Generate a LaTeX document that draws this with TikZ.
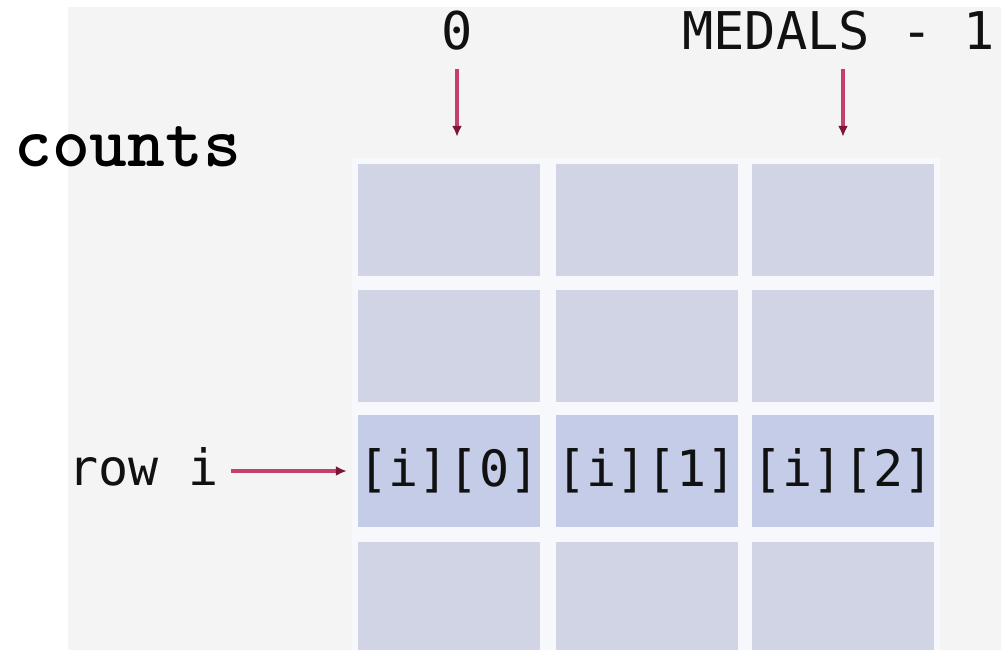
\documentclass[tikz,border=0pt]{standalone}
\usepackage{fontspec}
\newfontfamily\monofont{DejaVu Sans Mono}
\usetikzlibrary{arrows.meta}
\definecolor{bg}{HTML}{F4F4F4}
\definecolor{gridbg}{HTML}{F7F8FB}
\definecolor{cellc}{HTML}{D1D4E5}
\definecolor{cellhi}{HTML}{C5CCE7}
\definecolor{arrowc}{HTML}{C4406A}
\definecolor{tipc}{HTML}{7E1535}
\definecolor{txt}{HTML}{111111}
\tikzset{
  cell/.style={fill=cellc, draw=none, minimum width=182pt, minimum height=112pt,
    inner sep=0pt, text=txt, font=\monofont\fontsize{50}{50}\selectfont},
  hicell/.style={cell, fill=cellhi},
  ptr/.style={draw=arrowc, line width=4pt, -{Latex[length=11pt,width=10pt,color=tipc]}},
  lbl/.style={inner sep=0pt, text=txt, font=\monofont\fontsize{52}{52}\selectfont},
  rowlbl/.style={inner sep=0pt, text=txt, font=\monofont\fontsize{50}{50}\selectfont},
  namelbl/.style={inner sep=0pt, text=black, font=\ttfamily\bfseries\fontsize{72}{72}\selectfont},
}
\begin{document}
\begin{tikzpicture}[x=1pt,y=-1pt]
\useasboundingbox (0,0) rectangle (1001,650);
\clip (0,0) rectangle (1001,650);
\fill[bg] (68,7) rectangle (1001,650);
\fill[gridbg] (352,158) rectangle (940,650);
% cells
\node[cell] (c11) at (449,220) {};
\node[cell] (c12) at (646.5,220) {};
\node[cell] (c13) at (843,220) {};
\node[cell] (c21) at (449,346) {};
\node[cell] (c22) at (646.5,346) {};
\node[cell] (c23) at (843,346) {};
\node[hicell] (c31) at (449,471) {\makebox[0pt]{[i][0]}};
\node[hicell] (c32) at (646.5,471) {\makebox[0pt]{[i][1]}};
\node[hicell] (c33) at (843,471) {\makebox[0pt]{[i][2]}};
\node[cell] (c41) at (449,598) {};
\node[cell] (c42) at (646.5,598) {};
\node[cell] (c43) at (843,598) {};
% labels
\node[lbl, anchor=base] (zero) at (457,50) {0};
\node[lbl, anchor=base west] (medals) at (682,50) {MEDALS - 1};
\node[namelbl, anchor=base west] (counts) at (14,167) {counts};
\node[rowlbl, anchor=base west] (rowi) at (68,485) {row i};
% arrows
\draw[ptr, shorten <=18pt, shorten >=27pt] (zero.south) -- (zero.south |- c11.north);
\draw[ptr, shorten <=18pt, shorten >=27pt] (c13.north |- medals.south) -- (c13.north);
\draw[ptr, shorten <=12pt, shorten >=11pt] (rowi.east |- c31.west) -- (c31.west);
\end{tikzpicture}
\end{document}
